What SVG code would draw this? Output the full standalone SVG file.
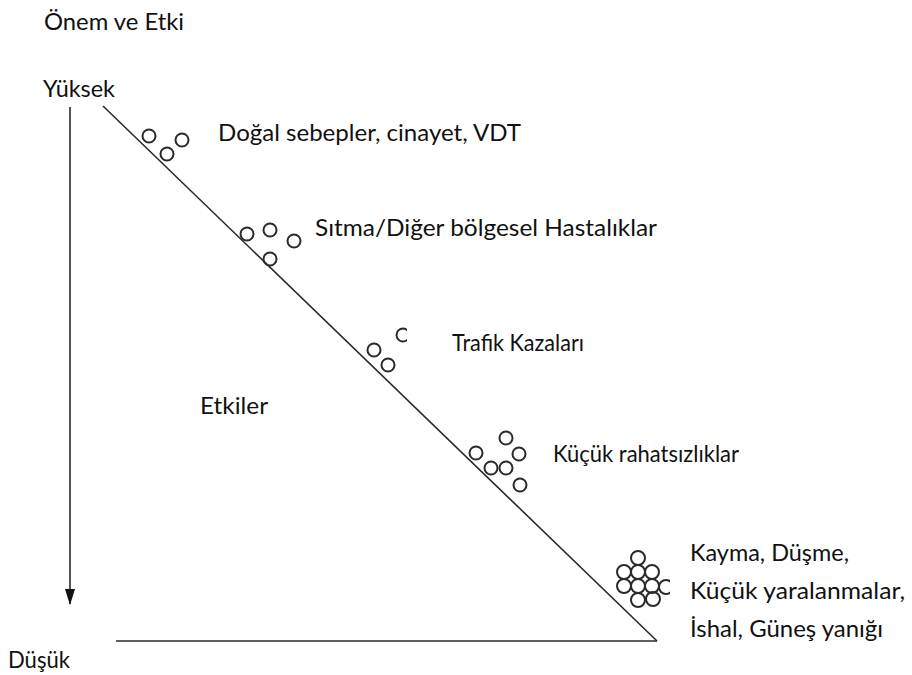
<svg xmlns="http://www.w3.org/2000/svg" width="912" height="675" viewBox="0 0 912 675">
  <style>
    .t { font-family: Lato, "Open Sans", "Liberation Sans", sans-serif; font-size: 23px; fill: #111; }
    .ln { stroke: #2a2a2a; stroke-width: 1.6; fill: none; }
    .dot { stroke: #2a2a2a; stroke-width: 2; fill: none; }
  </style>
  <defs>
    <marker id="arrow" markerWidth="16" markerHeight="10" refX="15" refY="5" orient="auto" markerUnits="userSpaceOnUse">
      <path d="M0,0 L16,5 L0,10 Z" fill="#111"/>
    </marker>
    <clipPath id="clip3"><rect x="360" y="320" width="47" height="60"/></clipPath>
    <clipPath id="clip5"><rect x="600" y="540" width="70" height="75"/></clipPath>
  </defs>
  <rect width="912" height="675" fill="#fff"/>

  <!-- axis titles -->
  <g id="title"><text class="t" x="44" y="30" textLength="140" lengthAdjust="spacingAndGlyphs">Önem ve Etki</text></g>
  <g id="high"><text class="t" x="43" y="97" textLength="72" lengthAdjust="spacingAndGlyphs">Yüksek</text></g>
  <g id="low"><text class="t" x="8" y="668" textLength="62" lengthAdjust="spacingAndGlyphs">Düşük</text></g>
  <g id="effects"><text class="t" x="200" y="414" textLength="68" lengthAdjust="spacingAndGlyphs">Etkiler</text></g>

  <!-- triangle and severity axis -->
  <g id="connectors">
    <line class="ln" x1="70" y1="107" x2="70" y2="604" marker-end="url(#arrow)"/>
    <line class="ln" x1="103" y1="106" x2="657" y2="641"/>
    <line class="ln" x1="116" y1="641" x2="657" y2="641"/>
  </g>

  <!-- incident categories -->
  <g id="natural">
    <circle class="dot" cx="149" cy="136" r="6.5"/>
    <circle class="dot" cx="167" cy="154" r="6.5"/>
    <circle class="dot" cx="182" cy="140" r="6.5"/>
    <text class="t" x="218" y="141" textLength="303" lengthAdjust="spacingAndGlyphs">Doğal sebepler, cinayet, VDT</text>
  </g>
  <g id="malaria">
    <circle class="dot" cx="247" cy="234" r="6.5"/>
    <circle class="dot" cx="270" cy="230" r="6.5"/>
    <circle class="dot" cx="294" cy="241" r="6.5"/>
    <circle class="dot" cx="270" cy="259" r="6.5"/>
    <text class="t" x="315" y="236" textLength="342" lengthAdjust="spacingAndGlyphs">Sıtma/Diğer bölgesel Hastalıklar</text>
  </g>
  <g id="traffic">
    <g clip-path="url(#clip3)">
      <circle class="dot" cx="374" cy="350" r="6.5"/>
      <circle class="dot" cx="388" cy="365" r="6.5"/>
      <circle class="dot" cx="403" cy="335" r="6.5"/>
    </g>
    <text class="t" x="452" y="351" textLength="132" lengthAdjust="spacingAndGlyphs">Trafik Kazaları</text>
  </g>
  <g id="minor">
    <circle class="dot" cx="506" cy="438" r="6.5"/>
    <circle class="dot" cx="476" cy="453" r="6.5"/>
    <circle class="dot" cx="519" cy="454" r="6.5"/>
    <circle class="dot" cx="491" cy="468" r="6.5"/>
    <circle class="dot" cx="506" cy="468" r="6.5"/>
    <circle class="dot" cx="520" cy="485" r="6.5"/>
    <text class="t" x="553" y="462" textLength="186" lengthAdjust="spacingAndGlyphs">Küçük rahatsızlıklar</text>
  </g>
  <g id="slips">
    <g clip-path="url(#clip5)">
      <circle class="dot" cx="638" cy="558" r="7"/>
      <circle class="dot" cx="624" cy="572" r="7"/>
      <circle class="dot" cx="638" cy="572" r="7"/>
      <circle class="dot" cx="652" cy="572" r="7"/>
      <circle class="dot" cx="624" cy="586" r="7"/>
      <circle class="dot" cx="638" cy="586" r="7"/>
      <circle class="dot" cx="652" cy="586" r="7"/>
      <circle class="dot" cx="666" cy="587" r="7"/>
      <circle class="dot" cx="638" cy="600" r="7"/>
      <circle class="dot" cx="653" cy="599" r="7"/>
    </g>
    <text class="t" x="690" y="561" textLength="159" lengthAdjust="spacingAndGlyphs">Kayma, Düşme,</text>
    <text class="t" x="690" y="599" textLength="215" lengthAdjust="spacingAndGlyphs">Küçük yaralanmalar,</text>
    <text class="t" x="690" y="637" textLength="193" lengthAdjust="spacingAndGlyphs">İshal, Güneş yanığı</text>
  </g>
</svg>
